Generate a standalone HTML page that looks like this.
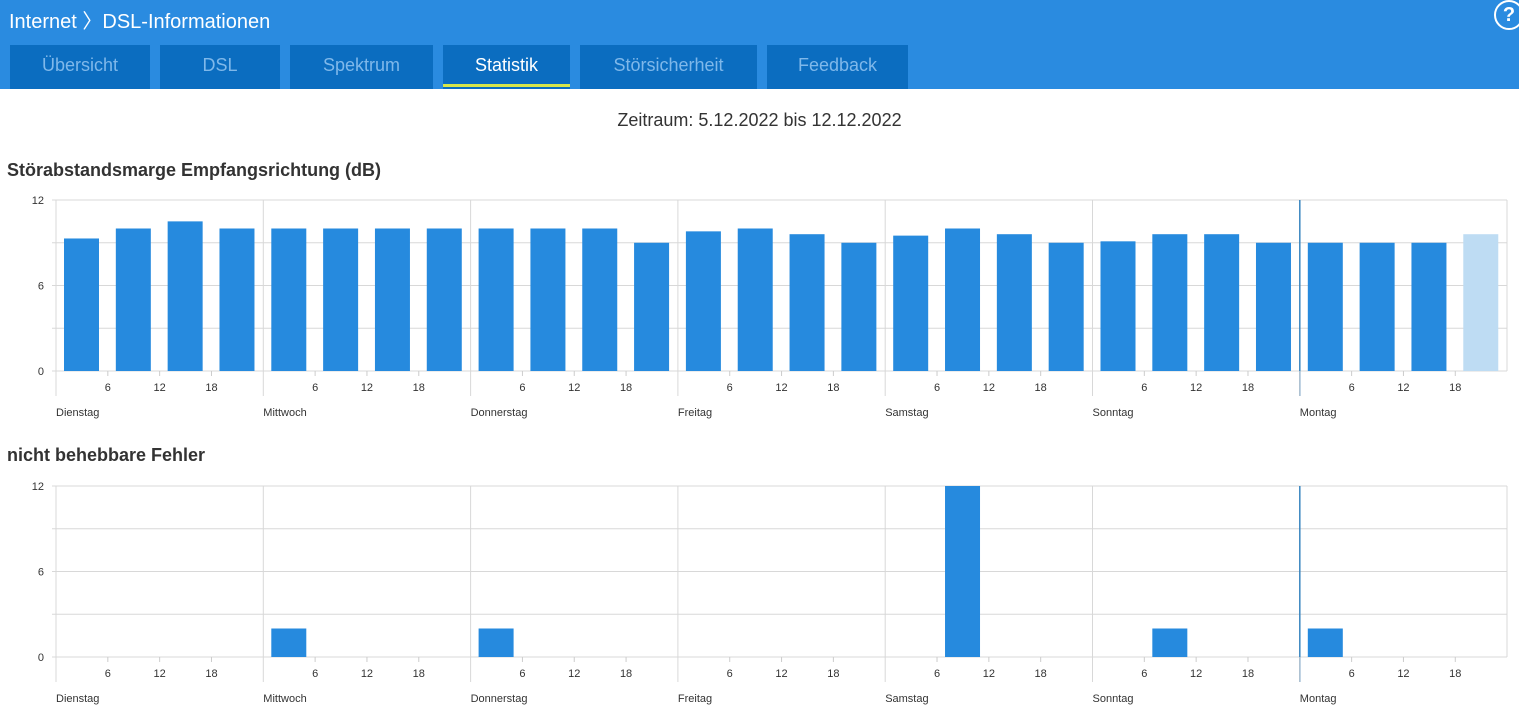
<!DOCTYPE html>
<html><head><meta charset="utf-8"><style>
body{margin:0;width:1519px;height:725px;overflow:hidden;background:#fff;font-family:"Liberation Sans",sans-serif;}
.hdr{position:absolute;left:0;top:0;width:1519px;height:89px;background:#2a8be0;}
.ttl{position:absolute;left:9px;top:5px;color:#fff;font-size:20px;}
.tab{position:absolute;top:45px;height:44px;background:#0b6dc0;color:#7fb8ea;font-size:18px;text-align:center;line-height:40px;}
.tab.a{color:#fff;}
.tab.a:after{content:"";position:absolute;left:0;right:0;bottom:2px;height:3px;background:#d6e64a;}
.help{position:absolute;left:1494px;top:0;width:26px;height:26px;border-radius:50%;border:2px solid #fff;color:#fff;font-weight:bold;font-size:20px;text-align:center;line-height:26px;}
.z{position:absolute;top:110px;width:1519px;text-align:center;font-size:18px;color:#333;}
.h{position:absolute;left:7px;font-size:18px;font-weight:bold;color:#333;}
</style></head><body>
<div class="hdr"><div class="ttl">Internet 〉DSL-Informationen</div>
<div class="tab" style="left:10px;width:140px">Übersicht</div>
<div class="tab" style="left:160px;width:120px">DSL</div>
<div class="tab" style="left:290px;width:143px">Spektrum</div>
<div class="tab a" style="left:443px;width:127px">Statistik</div>
<div class="tab" style="left:580px;width:177px">Störsicherheit</div>
<div class="tab" style="left:767px;width:141px">Feedback</div>
<div class="help">?</div></div>
<div class="z">Zeitraum: 5.12.2022 bis 12.12.2022</div>
<div class="h" style="top:160px">Störabstandsmarge Empfangsrichtung (dB)</div>
<div class="h" style="top:445px">nicht behebbare Fehler</div>
<svg width="1519" height="725" style="position:absolute;left:0;top:0" font-family="Liberation Sans, sans-serif" font-size="11" fill="#333">
<g id="c1"></g><g id="c2"></g>
</svg>
<script>
function chart(g,top,vals,light){
 const b=top+171,L=56,R=1507,dw=207.3,s='http://www.w3.org/2000/svg';let h='';
 for(let i=0;i<=4;i++){const y=b-i*171/4;h+=`<line x1="${L-4}" x2="${R}" y1="${y}" y2="${y}" stroke="#d8d8d8"/>`;}
 h+=`<line x1="${R}" x2="${R}" y1="${top}" y2="${b}" stroke="#d8d8d8"/>`;
 [0,6,12].forEach((v,i)=>h+=`<text x="${L-12}" y="${b-i*85.5+4}" text-anchor="end">${v}</text>`);
 const days=['Dienstag','Mittwoch','Donnerstag','Freitag','Samstag','Sonntag','Montag'];
 for(let d=0;d<7;d++){const x=L+d*dw;
  h+=`<line x1="${x}" x2="${x}" y1="${top}" y2="${b+25}" stroke="${d==6?'#3a86c0':'#d8d8d8'}" ${d==6?'stroke-width="1.5"':''}/>`;
  if(d==6)h+=`<line x1="${x}" x2="${x}" y1="${b}" y2="${b+25}" stroke="#d8d8d8"/>`;
  h+=`<text x="${x}" y="${b+45}">${days[d]}</text>`;
  [6,12,18].forEach((t,k)=>{const tx=x+(k+1)*dw/4;h+=`<line x1="${tx}" x2="${tx}" y1="${b}" y2="${b+5}" stroke="#ccc"/><text x="${tx}" y="${b+20}" text-anchor="middle">${t}</text>`;});
 }
 vals.forEach((v,i)=>{if(!v)return;const x=L+i*dw/4+8,hh=v*171/12;
  h+=`<rect x="${x}" y="${b-hh}" width="35" height="${hh}" fill="${light&&i==vals.length-1?'#bedcf3':'#268ade'}"/>`;});
 document.getElementById(g).innerHTML=h;
}
chart('c1',200,[9.3,10,10.5,10,10,10,10,10,10,10,10,9,9.8,10,9.6,9,9.5,10,9.6,9,9.1,9.6,9.6,9,9,9,9,9.6],true);
const v2=new Array(28).fill(0);v2[4]=2;v2[8]=2;v2[17]=12;v2[21]=2;v2[24]=2;
chart('c2',486,v2,false);
</script>
</body></html>
